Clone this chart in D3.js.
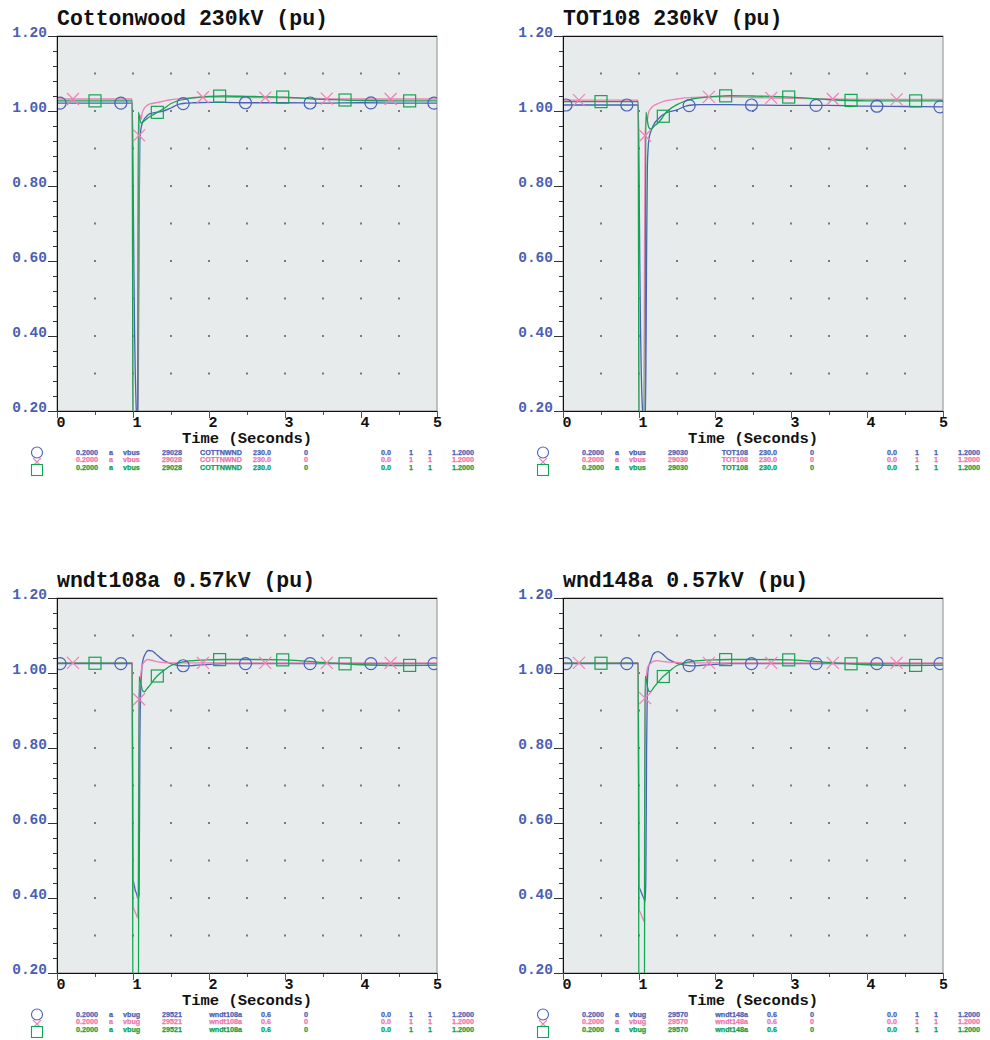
<!DOCTYPE html>
<html>
<head>
<meta charset="utf-8">
<script src="https://cdn.jsdelivr.net/npm/d3@7"></script>
<style>
  body { margin: 0; background: #ffffff; }
  svg { display: block; }
</style>
</head>
<body>
<svg id="chart" width="990" height="1040"></svg>
<script>
// ---- Simulation output: bus voltages (pu) vs time (s) ----
const timeSec = [0, 0.5, 0.99, 1.0, 1.01, 1.02, 1.03, 1.04, 1.05, 1.06, 1.07, 1.08, 1.09, 1.10, 1.11, 1.12, 1.13, 1.15, 1.18, 1.2, 1.25, 1.3, 1.35, 1.4, 1.5, 1.6, 1.7, 1.8, 2.0, 2.2, 2.5, 3.0, 3.5, 4.0, 4.5, 5.0];

const cottonwoodBlue  = [1.021, 1.021, 1.021, 0.85, 0.62, 0.42, 0.30, 0.22, 0.18, 0.17, 0.30, 0.70, 0.92, 0.945, 0.958, 0.966, 0.972, 0.979, 0.986, 0.990, 0.994, 0.996, 0.998, 1.000, 1.008, 1.018, 1.021, 1.022, 1.023, 1.023, 1.022, 1.022, 1.021, 1.022, 1.021, 1.021];
const cottonwoodPink  = [1.032, 1.032, 1.032, 0.15, 0.15, 0.15, 0.15, 0.15, 0.15, 0.15, 0.50, 0.935, 0.972, 0.988, 0.978, 0.994, 1.000, 1.008, 1.014, 1.017, 1.020, 1.022, 1.024, 1.026, 1.030, 1.032, 1.034, 1.036, 1.037, 1.037, 1.036, 1.035, 1.033, 1.032, 1.032, 1.032];
const cottonwoodGreen = [1.027, 1.027, 1.027, 0.10, 0.10, 0.10, 0.10, 0.10, 0.10, 0.10, 0.997, 0.990, 0.978, 0.970, 0.968, 0.969, 0.970, 0.974, 0.979, 0.982, 0.988, 0.994, 1.000, 1.006, 1.020, 1.028, 1.032, 1.035, 1.039, 1.040, 1.039, 1.037, 1.031, 1.028, 1.027, 1.027];

const tot108Blue  = [1.016, 1.016, 1.016, 0.85, 0.60, 0.42, 0.30, 0.23, 0.19, 0.17, 0.17, 0.18, 0.30, 0.62, 0.85, 0.90, 0.925, 0.942, 0.958, 0.966, 0.978, 0.988, 0.994, 0.998, 1.003, 1.012, 1.016, 1.017, 1.017, 1.017, 1.016, 1.015, 1.015, 1.013, 1.012, 1.011];
const tot108Pink  = [1.029, 1.029, 1.029, 0.15, 0.15, 0.15, 0.15, 0.15, 0.15, 0.15, 0.45, 0.934, 0.970, 0.985, 0.976, 0.990, 0.998, 1.005, 1.012, 1.015, 1.020, 1.024, 1.027, 1.029, 1.032, 1.035, 1.036, 1.037, 1.038, 1.038, 1.036, 1.034, 1.032, 1.031, 1.031, 1.031];
const tot108Green = [1.025, 1.025, 1.025, 0.10, 0.10, 0.10, 0.10, 0.10, 0.10, 0.10, 0.10, 0.10, 0.997, 0.990, 0.975, 0.963, 0.956, 0.952, 0.955, 0.960, 0.968, 0.980, 0.995, 1.004, 1.017, 1.026, 1.032, 1.035, 1.039, 1.041, 1.040, 1.037, 1.030, 1.027, 1.027, 1.027];

const wndt108aBlue  = [1.025, 1.025, 1.025, 0.45, 0.44, 0.43, 0.42, 0.415, 0.41, 0.40, 0.40, 0.41, 0.80, 0.95, 0.99, 1.020, 1.033, 1.046, 1.057, 1.060, 1.059, 1.051, 1.042, 1.034, 1.025, 1.020, 1.019, 1.020, 1.023, 1.025, 1.025, 1.025, 1.025, 1.025, 1.025, 1.025];
const wndt108aPink  = [1.027, 1.027, 1.027, 0.377, 0.372, 0.367, 0.362, 0.357, 0.352, 0.346, 0.50, 0.93, 0.965, 0.990, 1.008, 1.018, 1.024, 1.030, 1.035, 1.036, 1.034, 1.031, 1.029, 1.028, 1.027, 1.027, 1.027, 1.027, 1.027, 1.027, 1.027, 1.027, 1.027, 1.027, 1.027, 1.027];
const wndt108aGreen = [1.026, 1.026, 1.026, 0.0, 0.0, 0.0, 0.0, 0.0, 0.0, 0.0, 0.0, 0.990, 0.985, 0.975, 0.965, 0.957, 0.952, 0.950, 0.957, 0.962, 0.975, 0.988, 0.998, 1.006, 1.020, 1.027, 1.031, 1.033, 1.035, 1.036, 1.036, 1.035, 1.028, 1.022, 1.020, 1.021];

const wnd148aBlue  = [1.025, 1.025, 1.025, 0.43, 0.425, 0.42, 0.415, 0.41, 0.405, 0.40, 0.395, 0.39, 0.45, 0.80, 0.97, 1.010, 1.020, 1.030, 1.048, 1.053, 1.057, 1.052, 1.043, 1.035, 1.026, 1.021, 1.019, 1.020, 1.023, 1.025, 1.025, 1.025, 1.025, 1.025, 1.025, 1.025];
const wnd148aPink  = [1.027, 1.027, 1.027, 0.368, 0.364, 0.36, 0.355, 0.35, 0.345, 0.34, 0.337, 0.933, 0.975, 0.998, 1.012, 1.018, 1.021, 1.025, 1.030, 1.032, 1.033, 1.031, 1.030, 1.029, 1.028, 1.027, 1.027, 1.027, 1.027, 1.027, 1.027, 1.027, 1.027, 1.027, 1.027, 1.027];
const wnd148aGreen = [1.026, 1.026, 1.026, 0.0, 0.0, 0.0, 0.0, 0.0, 0.0, 0.0, 0.0, 0.990, 0.990, 0.976, 0.965, 0.956, 0.951, 0.950, 0.957, 0.963, 0.975, 0.987, 0.996, 1.005, 1.020, 1.027, 1.031, 1.033, 1.035, 1.036, 1.036, 1.035, 1.028, 1.022, 1.020, 1.021];

// Marker sample times for each trace (circle / cross / square)
const circleTimes = [0.04, 0.84, 1.66, 2.48, 3.33, 4.13, 4.96];
const crossTimes  = [0.21, 1.08, 1.92, 2.74, 3.55, 4.39];
const squareTimes = [0.50, 1.32, 2.14, 2.97, 3.79, 4.64];

// Axis ticks
const xTickValues = [0, 1, 2, 3, 4, 5];
const xTickLabels = ["0", "1", "2", "3", "4", "5"];
const yTickValues = [1.2, 1.0, 0.8, 0.6, 0.4, 0.2];
const yTickLabels = ["1.20", "1.00", "0.80", "0.60", "0.40", "0.20"];

// Titles and channel descriptions
const titles = ["Cottonwood 230kV (pu)", "TOT108 230kV (pu)", "wndt108a 0.57kV (pu)", "wnd148a 0.57kV (pu)"];
const legendCottonwood = ["0.2000", "a", "vbus", "29028", "COTTNWND", "230.0", "0", "0.0", "1", "1", "1.2000"];
const legendTot108     = ["0.2000", "a", "vbus", "29030", "TOT108", "230.0", "0", "0.0", "1", "1", "1.2000"];
const legendWndt108a   = ["0.2000", "a", "vbug", "29521", "wndt108a", "0.6", "0", "0.0", "1", "1", "1.2000"];
const legendWnd148a    = ["0.2000", "a", "vbug", "29570", "wndt148a", "0.6", "0", "0.0", "1", "1", "1.2000"];

// ---- Drawing ----
const colors = { blue: "#4a62b6", pink: "#f07fb5", green: "#12a552" };
const textColors = { blue: "#4a5fb4", pink: "#ef74ab", green: "#0aa24c" };
const seriesColors = [colors.blue, colors.pink, colors.green];
const legendColors = [textColors.blue, textColors.pink, textColors.green];

const panels = [
  { title: titles[0], series: [cottonwoodBlue, cottonwoodPink, cottonwoodGreen], legend: legendCottonwood, left: 57,  top: 36 },
  { title: titles[1], series: [tot108Blue, tot108Pink, tot108Green],             legend: legendTot108,     left: 563, top: 36 },
  { title: titles[2], series: [wndt108aBlue, wndt108aPink, wndt108aGreen],       legend: legendWndt108a,   left: 57,  top: 598 },
  { title: titles[3], series: [wnd148aBlue, wnd148aPink, wnd148aGreen],          legend: legendWnd148a,    left: 563, top: 598 }
];

const W = 380, H = 375;
const x = d3.scaleLinear().domain([0, 5]).range([0, W]);
const y = d3.scaleLinear().domain([0.2, 1.2]).range([H, 0]);
const mono = "'Courier New', 'Liberation Mono', monospace";

const svg = d3.select("#chart");

function valueAt(series, t) {
  const i = d3.bisectLeft(timeSec, t);
  if (i <= 0) return series[0];
  if (i >= timeSec.length) return series[series.length - 1];
  const t0 = timeSec[i - 1], t1 = timeSec[i];
  return series[i - 1] + (series[i] - series[i - 1]) * (t - t0) / (t1 - t0);
}

const line = d3.line()
  .x((d, i) => x(timeSec[i]))
  .y(d => y(d))
  .curve(d3.curveMonotoneX);

// legend column placement: [offset, anchor]
const legendCols = [[19, "start"], [52, "start"], [66, "start"], [105, "start"], [185, "end"], [214, "end"],
                    [247, "start"], [324, "start"], [352, "start"], [371, "start"], [395, "start"]];

panels.forEach((p, pi) => {
  const g = svg.append("g").attr("transform", `translate(${p.left},${p.top})`);

  // plot background
  g.append("rect").attr("width", W).attr("height", H)
    .attr("fill", "#e7ebeb").attr("stroke", "#8c8c8c").attr("stroke-width", 1);
  g.append("line").attr("x1", 0).attr("x2", W).attr("y1", 0.5).attr("y2", 0.5).attr("stroke", "#111");

  // grid dots
  const dotX = d3.range(1, 10).map(k => k * 0.5);
  const dotY = d3.range(3, 12).map(k => k / 10);
  const dots = [];
  dotX.forEach(tx => dotY.forEach(vy => dots.push([tx, vy])));
  g.append("g").selectAll("rect").data(dots).join("rect")
    .attr("x", d => x(d[0]) - 1).attr("y", d => y(d[1]) - 1)
    .attr("width", 2).attr("height", 2).attr("fill", "#7a7a7a");

  // clipped traces
  const clipId = "clip" + pi;
  g.append("clipPath").attr("id", clipId).append("rect").attr("width", W).attr("height", H);
  const plot = g.append("g").attr("clip-path", `url(#${clipId})`);
  p.series.forEach((s, si) => {
    plot.append("path").datum(s).attr("d", line)
      .attr("fill", "none").attr("stroke", seriesColors[si]).attr("stroke-width", 1.3);
  });

  // markers
  const [blue, pink, green] = p.series;
  plot.append("g").selectAll("circle").data(circleTimes).join("circle")
    .attr("cx", t => x(t)).attr("cy", t => y(valueAt(blue, t))).attr("r", 6)
    .attr("fill", "none").attr("stroke", colors.blue).attr("stroke-width", 1.2);
  plot.append("g").selectAll("path").data(crossTimes).join("path")
    .attr("d", t => {
      const cx = x(t), cy = y(valueAt(pink, t)), r = 6;
      return `M${cx - r},${cy - r}L${cx + r},${cy + r}M${cx - r},${cy + r}L${cx + r},${cy - r}`;
    })
    .attr("fill", "none").attr("stroke", colors.pink).attr("stroke-width", 1.2);
  plot.append("g").selectAll("rect").data(squareTimes).join("rect")
    .attr("x", t => x(t) - 6).attr("y", t => y(valueAt(green, t)) - 6)
    .attr("width", 12).attr("height", 12)
    .attr("fill", "none").attr("stroke", colors.green).attr("stroke-width", 1.2);

  // y axis: minor then major ticks
  const minorY = d3.range(0, 26).map(k => +(0.2 + k * 0.04).toFixed(2)).filter(v => !yTickValues.some(m => Math.abs(m - v) < 1e-6));
  g.append("g").call(d3.axisLeft(y).tickValues(minorY).tickSize(4).tickFormat(""))
    .call(a => a.select(".domain").remove())
    .selectAll("line").attr("stroke", "#333");
  const yAx = g.append("g").call(d3.axisLeft(y).tickValues(yTickValues).tickSize(9)
      .tickFormat((d, i) => yTickLabels[i]))
    .call(a => a.select(".domain").attr("stroke", "#111"));
  yAx.selectAll("line").attr("stroke", "#333");
  yAx.selectAll("text").attr("x", -10).attr("dy", "0")
    .attr("fill", textColors.blue).attr("font-family", mono)
    .attr("font-weight", "bold").attr("font-size", 14.5);

  // x axis
  const minorX = [0.5, 1.5, 2.5, 3.5, 4.5];
  g.append("g").attr("transform", `translate(0,${H})`)
    .call(d3.axisBottom(x).tickValues(minorX).tickSize(4).tickFormat(""))
    .call(a => a.select(".domain").remove())
    .selectAll("line").attr("stroke", "#555");
  const xAx = g.append("g").attr("transform", `translate(0,${H})`)
    .call(d3.axisBottom(x).tickValues(xTickValues).tickSize(7)
      .tickFormat((d, i) => xTickLabels[i]));
  xAx.select(".domain").attr("stroke", "#111");
  xAx.selectAll("line").attr("stroke", "#555");
  xAx.selectAll("text").attr("y", 16).attr("dy", "0")
    .attr("dx", d => d === 5 ? 0 : 3.5)
    .attr("fill", "#111").attr("font-family", mono)
    .attr("font-weight", "bold").attr("font-size", 15);

  g.append("text").attr("x", W / 2).attr("y", H + 32).attr("text-anchor", "middle")
    .attr("font-family", mono).attr("font-weight", "bold").attr("font-size", 15.5)
    .attr("fill", "#111").text("Time (Seconds)");

  // title
  g.append("text").attr("x", 0).attr("y", -11)
    .attr("font-family", mono).attr("font-weight", "bold").attr("font-size", 21.5)
    .attr("fill", "#111").text(p.title);

  // legend symbols
  const lg = g.append("g");
  lg.append("circle").attr("cx", -20).attr("cy", H + 41.5).attr("r", 5.5)
    .attr("fill", "none").attr("stroke", colors.blue).attr("stroke-width", 1.1);
  lg.append("path").attr("d", `M${-24},${H + 47}L${-16},${H + 55}M${-24},${H + 55}L${-16},${H + 47}`)
    .attr("fill", "none").attr("stroke", colors.pink).attr("stroke-width", 1.1);
  lg.append("rect").attr("x", -25.5).attr("y", H + 53.5).attr("width", 11).attr("height", 11)
    .attr("fill", "#ffffff").attr("stroke", colors.green).attr("stroke-width", 1.1);

  // legend rows
  [0, 1, 2].forEach(r => {
    const row = lg.append("g").attr("transform", `translate(0,${H + 44 + r * 7.3})`);
    p.legend.forEach((txt, ci) => {
      row.append("text").attr("x", legendCols[ci][0]).attr("y", 0)
        .attr("text-anchor", legendCols[ci][1])
        .attr("font-family", "'Liberation Sans', Arial, sans-serif")
        .attr("font-weight", "bold").attr("font-size", 7.2)
        .attr("fill", legendColors[r])
        .attr("stroke", legendColors[r]).attr("stroke-width", 0.25)
        .text(txt);
    });
  });
});
</script>
</body>
</html>
